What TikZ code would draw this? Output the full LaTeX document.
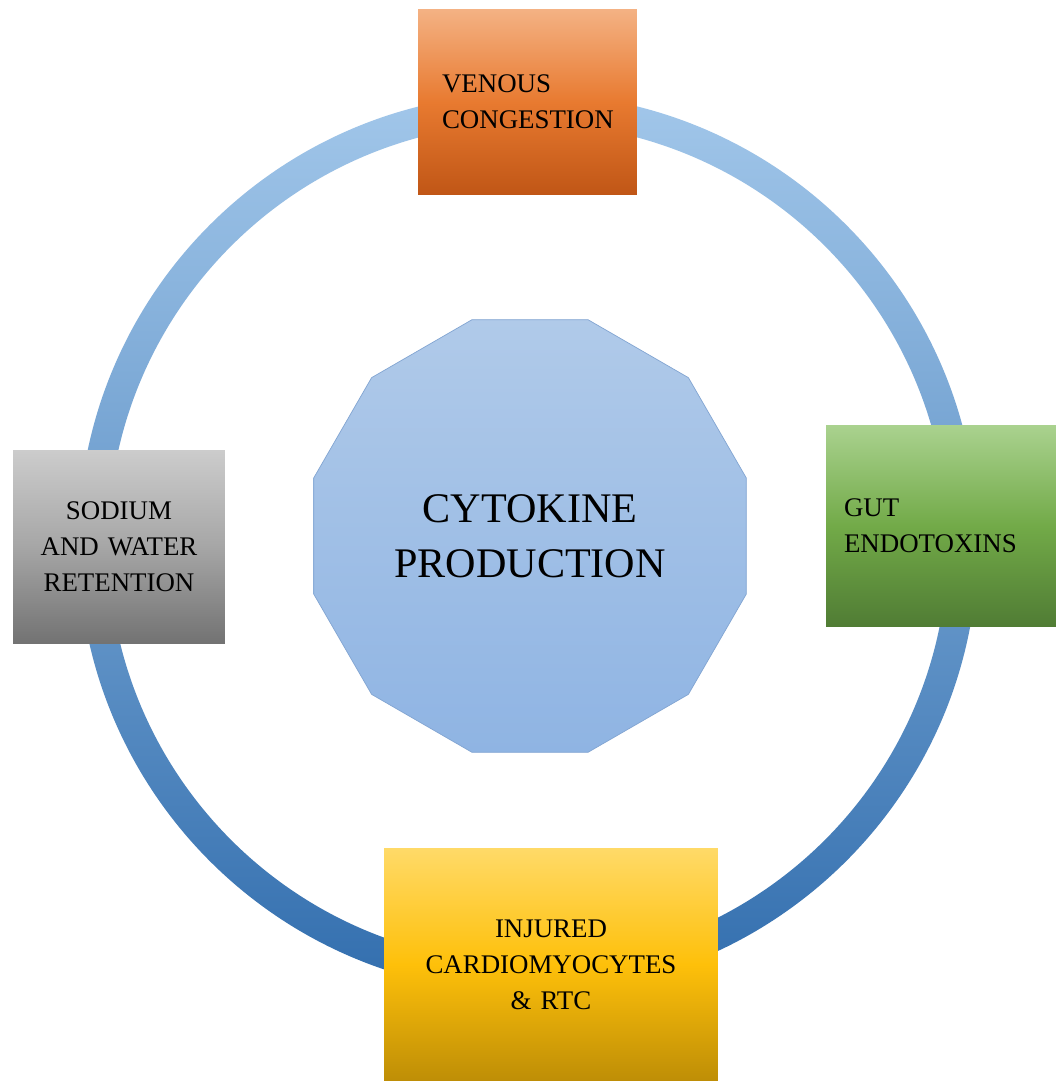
\documentclass[tikz,border=0pt]{standalone}
\usepackage{fontspec}
\setmainfont{Liberation Serif}
\usetikzlibrary{shapes.geometric}
\definecolor{ringtop}{RGB}{162,199,234}
\definecolor{ringbot}{RGB}{50,110,174}
\definecolor{polytop}{RGB}{176,202,233}
\definecolor{polybot}{RGB}{143,180,227}
\definecolor{polyline}{RGB}{130,165,210}
\definecolor{orgtop}{RGB}{244,178,132}
\definecolor{orgmid}{RGB}{232,122,48}
\definecolor{orgbot}{RGB}{192,86,22}
\definecolor{grntop}{RGB}{170,210,143}
\definecolor{grnmid}{RGB}{114,170,72}
\definecolor{grnbot}{RGB}{80,124,52}
\definecolor{grytop}{RGB}{204,204,204}
\definecolor{grymid}{RGB}{166,166,166}
\definecolor{grybot}{RGB}{114,114,114}
\definecolor{ylwtop}{RGB}{255,218,104}
\definecolor{ylwmid}{RGB}{254,192,10}
\definecolor{ylwbot}{RGB}{190,142,6}
\begin{document}
\begin{tikzpicture}[x=0.02cm,y=-0.02cm,
	box/.style={inner ysep=0pt,font=\fontsize{15.3}{20.4}\selectfont},
	orgbox/.style={box,top color=orgtop,bottom color=orgbot,middle color=orgmid},
	grnbox/.style={box,top color=grntop,bottom color=grnbot,middle color=grnmid},
	grybox/.style={box,top color=grytop,bottom color=grybot,middle color=grymid},
	ylwbox/.style={box,top color=ylwtop,bottom color=ylwbot,middle color=ylwmid}]
	\useasboundingbox[fill=white] (0,0) rectangle (1061,1081);
	\shade[top color=ringtop,bottom color=ringbot,even odd rule] (528,543) circle (9cm) (528,543) circle (8.4cm);
	\node[regular polygon,regular polygon sides=12,minimum size=8.96cm,inner sep=0pt,draw=polyline,top color=polytop,bottom color=polybot,align=center,font=\fontsize{24}{31.2}\selectfont] (cyto) at (530,536) {CYTOKINE\\PRODUCTION};
	\node[orgbox,minimum width=4.38cm,minimum height=3.72cm,inner xsep=0.48cm,text width=3.42cm,align=left] (venous) at (527.5,102) {VENOUS\\CONGESTION};
	\node[grnbox,minimum width=4.6cm,minimum height=4.04cm,inner xsep=0.36cm,text width=3.88cm,align=left] (gut) at (941,526) {GUT\\ENDOTOXINS};
	\node[grybox,minimum width=4.24cm,minimum height=3.88cm,inner xsep=0.2cm,text width=3.84cm,align=center] (sodium) at (119,547) {SODIUM\\AND WATER\\RETENTION};
	\node[ylwbox,minimum width=6.68cm,minimum height=4.66cm,inner xsep=0.2cm,text width=6.28cm,align=center] (injured) at (551,964.5) {INJURED\\CARDIOMYOCYTES\\\& RTC};
\end{tikzpicture}
\end{document}
